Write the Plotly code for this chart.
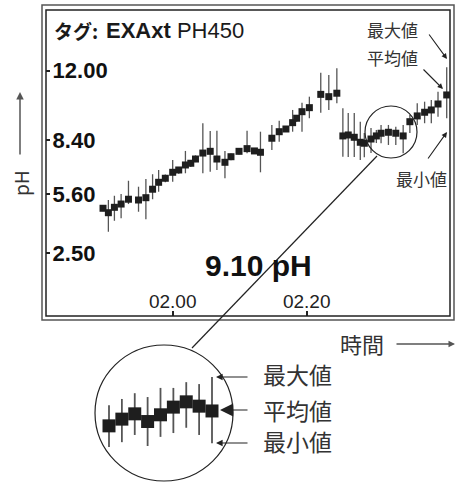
import datetime as dt
import plotly.graph_objects as go

W, H = 456, 482

# ---------------- data ----------------
time_min = [109.6, 110.4, 111.3, 112.3, 113.4, 114.9, 116.0, 117.0, 117.9, 118.9,
            120.0, 120.9, 121.9, 122.7, 123.4, 124.5, 125.6, 126.6, 127.8, 128.7,
            129.9, 131.1, 132.2, 133.1, 134.8, 135.9, 136.9, 137.9, 138.5, 139.3,
            140.4, 142.1, 143.3, 144.5, 145.4, 146.2, 147.1, 148.0, 148.6, 149.6,
            150.4, 151.1, 152.2, 153.3, 154.4, 155.4, 156.5, 157.6, 158.6, 159.6, 160.9]
ph_mean = [4.85, 4.62, 4.90, 5.07, 5.32, 5.28, 5.40, 5.84, 6.20, 6.41,
           6.72, 6.84, 7.10, 7.19, 7.41, 7.72, 7.81, 7.41, 7.24, 7.53,
           7.81, 7.95, 7.83, 7.76, 8.49, 8.83, 8.97, 9.30, 9.53, 9.87,
           10.08, 10.77, 10.65, 10.83, 8.61, 8.66, 8.54, 8.28, 8.23, 8.45,
           8.61, 8.75, 8.80, 8.75, 8.61, 9.35, 9.65, 9.84, 9.96, 10.27, 10.74]
ph_max = [5.00, 5.28, 5.50, 5.59, 6.28, 5.97, 6.37, 6.62, 6.84, 6.60,
          7.36, 7.00, 7.83, 7.35, 7.60, 9.27, 8.87, 8.88, 7.83, 7.70,
          7.95, 8.88, 7.95, 8.83, 9.18, 9.40, 9.10, 9.96, 9.70, 10.34,
          10.65, 11.90, 11.78, 12.13, 10.05, 9.80, 9.80, 9.35, 8.76, 9.02,
          8.92, 9.18, 9.18, 9.09, 9.18, 9.70, 10.31, 10.39, 10.48, 10.91, 12.18]
ph_min = [4.70, 3.63, 4.20, 4.33, 5.07, 4.67, 4.28, 5.32, 5.71, 6.20,
          6.23, 6.65, 6.67, 7.00, 7.25, 6.67, 6.75, 6.84, 6.41, 7.35,
          7.65, 7.71, 7.70, 6.72, 7.88, 8.31, 8.85, 8.83, 9.35, 8.83,
          9.53, 9.82, 9.96, 10.31, 7.53, 7.51, 7.51, 7.36, 7.50, 7.72,
          8.24, 8.23, 8.14, 8.14, 7.71, 8.76, 9.18, 9.27, 9.27, 9.61, 9.53]

y_ticks = [12.00, 8.40, 5.60, 2.50]
x_tick_min = [120, 140]          # 02.00, 02.20

# magnified detail
zoom_idx = [1, 2, 3, 4, 5, 6, 7, 8, 9]
zoom_mean = [8.37, 8.51, 8.62, 8.46, 8.60, 8.76, 8.87, 8.78, 8.68]
zoom_max = [8.80, 8.93, 9.05, 8.97, 9.16, 9.16, 9.28, 9.24, 9.39]
zoom_min = [7.93, 8.03, 8.18, 7.95, 8.14, 8.22, 8.33, 8.18, 8.01]

title_tag = "タグ:"
title_name = "<b>EXAxt</b> PH450"
value_text = "<b>9.10 pH</b>"

# ---------------- figure ----------------
base = dt.datetime(2024, 1, 1)
t = [base + dt.timedelta(minutes=m) for m in time_min]


def px(x):
    return x / W


def py(y):
    return 1 - y / H


JP = "Noto Sans CJK JP, Noto Sans, sans-serif"
LAT = "Liberation Sans, Arial, sans-serif"

fig = go.Figure()
fig.add_trace(go.Scatter(
    x=t, y=ph_mean, mode="markers",
    marker=dict(symbol="square", size=7, color="#1e1e1e", line=dict(width=0)),
    error_y=dict(type="data", symmetric=False,
                 array=[a - m for a, m in zip(ph_max, ph_mean)],
                 arrayminus=[m - b for m, b in zip(ph_mean, ph_min)],
                 width=0, thickness=1.3, color="#555555"),
    xaxis="x", yaxis="y", showlegend=False, hoverinfo="skip"))

fig.add_trace(go.Scatter(
    x=zoom_idx, y=zoom_mean, mode="markers",
    marker=dict(symbol="square", size=13, color="#1e1e1e", line=dict(width=0)),
    error_y=dict(type="data", symmetric=False,
                 array=[a - m for a, m in zip(zoom_max, zoom_mean)],
                 arrayminus=[m - b for m, b in zip(zoom_mean, zoom_min)],
                 width=0, thickness=1.8, color="#555555"),
    xaxis="x2", yaxis="y2", showlegend=False, hoverinfo="skip"))

x_lo = base + dt.timedelta(minutes=101.09)
x_hi = base + dt.timedelta(minutes=161.39)

fig.update_layout(
    width=W, height=H,
    margin=dict(l=0, r=0, t=0, b=0),
    paper_bgcolor="white", plot_bgcolor="rgba(0,0,0,0)",
    xaxis=dict(domain=[px(46), px(450)], range=[x_lo, x_hi], type="date",
               tickvals=[base + dt.timedelta(minutes=m) for m in x_tick_min],
               tickformat="%H.%M", ticks="inside", ticklen=5, tickwidth=1.5,
               tickcolor="#222", ticklabelposition="inside",
               tickfont=dict(family=LAT, size=19, color="#222"),
               showgrid=False, zeroline=False, showline=False, anchor="y"),
    yaxis=dict(domain=[py(316), py(10)], range=[-0.749, 15.155],
               tickvals=y_ticks, tickformat=".2f", ticks="inside", ticklen=4,
               tickwidth=1.5, tickcolor="#222", ticklabelposition="inside",
               ticklabelstandoff=4,
               tickfont=dict(family=LAT, size=22, color="#111", weight="bold"),
               showgrid=False, zeroline=False, showline=False, anchor="x"),
    xaxis2=dict(domain=[px(95), px(233)], range=[-0.087, 10.631], visible=False,
                anchor="y2"),
    yaxis2=dict(domain=[py(480), py(345)], range=[7.242, 10.054], visible=False,
                anchor="x2"),
)

shapes = [
    # outer and inner frames
    dict(type="rect", xref="paper", yref="paper", x0=px(42), x1=px(454),
         y0=py(320), y1=py(5), line=dict(color="#555", width=1.5)),
    dict(type="rect", xref="paper", yref="paper", x0=px(46), x1=px(450),
         y0=py(316), y1=py(10), line=dict(color="#222", width=1.5)),
    # magnifier circles and connector
    dict(type="circle", xref="paper", yref="paper", x0=px(365), x1=px(417),
         y0=py(158), y1=py(106), line=dict(color="#222", width=1.2)),
    dict(type="circle", xref="paper", yref="paper", x0=px(95), x1=px(233),
         y0=py(481), y1=py(345), line=dict(color="#222", width=1.2)),
    dict(type="line", xref="paper", yref="paper", x0=px(377), y0=py(156),
         x1=px(192), y1=py(348), line=dict(color="#222", width=1.2)),
]
fig.update_layout(shapes=shapes)

ann = []


def text(s, x, y, size, color="#333", family=JP, xanchor="center", angle=0):
    ann.append(dict(text=s, x=px(x), y=py(y), xref="paper", yref="paper",
                    showarrow=False, xanchor=xanchor, yanchor="middle",
                    textangle=angle, font=dict(family=family, size=size, color=color)))


def arrow(tail, head, color="#222", width=1.1, size=1.0, head_style=2):
    ann.append(dict(text="", x=px(head[0]), y=py(head[1]), xref="paper", yref="paper",
                    ax=tail[0] - head[0], ay=tail[1] - head[1], axref="pixel", ayref="pixel",
                    showarrow=True, arrowhead=head_style, arrowsize=size,
                    arrowwidth=width, arrowcolor=color, standoff=0, startstandoff=0))


# title (two parts: Japanese tag label + Latin tag name)
ann.append(dict(text=title_tag, x=px(52), y=py(30), xref="paper", yref="paper",
                showarrow=False, xanchor="left", yanchor="middle",
                font=dict(family=JP, size=19, color="#1a1a1a", weight="bold")))
ann.append(dict(text=title_name, x=px(104), y=py(30), xref="paper", yref="paper",
                showarrow=False, xanchor="left", yanchor="middle",
                font=dict(family=LAT, size=22, color="#1a1a1a")))

text(value_text, 258, 265, 30, color="#111", family=LAT)

# right side legend labels
text("最大値", 392, 29, 17)
text("平均値", 392, 57, 17)
text("最小値", 421, 178, 17)
arrow((428, 33), (447, 59))
arrow((422, 68), (443, 89))
arrow((427, 160), (447, 132))

# axis titles
text("pH", 20, 183, 19, angle=-90)
arrow((20, 156), (20, 92), color="#555", width=1.5, size=1.0)
text("時間", 362, 343, 22)
arrow((395, 344), (455, 344), color="#555", width=1.3, size=1.0)

# magnified labels
text("最大値", 297, 374, 23)
text("平均値", 297, 410, 23)
text("最小値", 297, 441, 23)
arrow((249, 377), (216, 377), width=1.1, size=1.2)
arrow((249, 410), (220, 410), width=1.1, size=2.4)
arrow((249, 443), (216, 443), width=1.1, size=1.2)

fig.update_layout(annotations=ann)

fig.write_html("out.html",
               config={"displayModeBar": False},
               post_script="document.body.style.margin='0';"
                           "document.body.style.padding='0';"
                           "document.body.style.overflow='hidden';")
